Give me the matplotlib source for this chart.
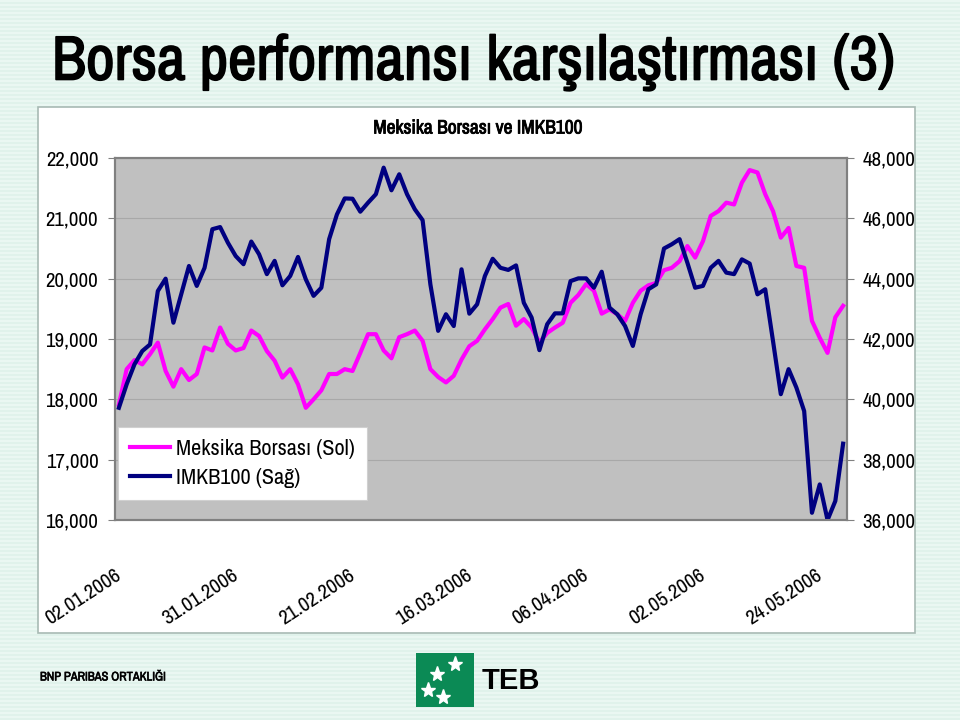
import matplotlib
matplotlib.use("Agg")
import matplotlib.pyplot as plt
import matplotlib.transforms as mtransforms
import matplotlib.patheffects as pe
from matplotlib import font_manager as fm
from matplotlib.patches import Rectangle
from matplotlib.lines import Line2D
from matplotlib.ticker import FuncFormatter
import numpy as np

# pick a narrow sans face (Arial Narrow look-alike)
available = {f.name for f in fm.fontManager.ttflist}
narrow = next((n for n in ['Liberation Sans Narrow', 'Arial Narrow', 'Archivo Narrow',
                           'Roboto Condensed', 'PT Sans Narrow', 'Sofia Sans Semi Condensed']
               if n in available), 'Liberation Sans')
plt.rcParams['font.family'] = [narrow, 'Liberation Sans', 'DejaVu Sans']

# tick dates (every 15th trading day)
tick_idx = [0, 15, 30, 45, 60, 75, 90]
tick_labels = ["02.01.2006", "31.01.2006", "21.02.2006", "16.03.2006",
               "06.04.2006", "02.05.2006", "24.05.2006"]

# Meksika Borsası (left axis)
mex = [17910, 18500, 18650, 18580, 18750, 18940, 18470, 18210, 18500, 18320,
       18420, 18860, 18810, 19190, 18920, 18810, 18850, 19140, 19050, 18800,
       18640, 18360, 18500, 18250, 17860, 18000, 18150, 18420, 18420, 18500,
       18470, 18770, 19080, 19080, 18810, 18680, 19030, 19080, 19140, 18970,
       18500, 18370, 18280, 18390, 18660, 18880, 18970, 19160, 19330, 19520,
       19580, 19220, 19330, 19190, 18940, 19100, 19190, 19270, 19600, 19730,
       19910, 19800, 19420, 19490, 19410, 19300, 19600, 19800, 19890, 19930,
       20140, 20180, 20290, 20540, 20350, 20620, 21040, 21120, 21260, 21230,
       21590, 21800, 21760, 21400, 21120, 20680, 20840, 20210, 20180, 19300,
       19020, 18770, 19360, 19550]

# IMKB100 (right axis)
imkb = [39720, 40500, 41160, 41600, 41820, 43590, 44000, 42540, 43480, 44420,
        43760, 44360, 45640, 45710, 45190, 44750, 44480, 45230, 44810, 44150,
        44590, 43780, 44090, 44720, 43980, 43430, 43700, 45310, 46130, 46660,
        46650, 46220, 46520, 46800, 47680, 46930, 47460, 46800, 46300, 45940,
        43810, 42270, 42820, 42430, 44310, 42840, 43150, 44090, 44660, 44360,
        44290, 44440, 43200, 42710, 41630, 42490, 42850, 42850, 43920, 44010,
        44010, 43700, 44230, 43040, 42820, 42430, 41770, 42820, 43650, 43810,
        45000, 45140, 45310, 44530, 43700, 43760, 44360, 44590, 44200, 44150,
        44640, 44500, 43480, 43650, 41930, 40170, 41000, 40390, 39610, 36240,
        37180, 36000, 36630, 38530]

x = np.arange(len(mex))


def heavy(lw):
    # thicken the narrow face, which has no bold cut installed
    return [pe.withStroke(linewidth=lw, foreground='black')]


fig = plt.figure(figsize=(9.6, 7.2), dpi=100)

# striped slide background
bg = fig.add_axes([0, 0, 1, 1], zorder=-10)
bg.set_xlim(0, 960)
bg.set_ylim(720, 0)
bg.axis('off')
bg.add_patch(Rectangle((0, 0), 960, 720, color='#e0f2eb', lw=0))
for yy in range(0, 720, 4):
    bg.add_patch(Rectangle((0, yy), 960, 2, color='#eaf7f2', lw=0))
bg.add_patch(Rectangle((38, 107), 877, 526, facecolor='white',
                       edgecolor='#a8bab4', lw=1.2))

title = bg.text(52, 62, "Borsa performansı karşılaştırması (3)", fontsize=44,
                fontweight='bold', ha='left', va='center', path_effects=heavy(1.2))
bg.text(478, 128, "Meksika Borsası ve IMKB100", fontsize=14,
        fontweight='bold', ha='center', va='center', path_effects=heavy(0.6))

# footer
bg.text(40, 677, "BNP PARIBAS ORTAKLIĞI", fontsize=9, fontweight='bold',
        ha='left', va='center', path_effects=heavy(0.4))
bg.add_patch(Rectangle((416, 653), 58, 54, color='#0b8a55', lw=0))
bg.plot([455, 437, 428, 443], [664, 674, 690, 697], ls='none', marker='*',
        color='white', ms=11)
bg.text(482, 681, "TEB", fontsize=21, fontweight='bold', ha='left',
        va='center', family=['Liberation Sans', 'DejaVu Sans'])

# chart
ax = fig.add_axes([115 / 960, 1 - 520 / 720, 732 / 960, 362 / 720])
ax.set_facecolor('#c0c0c0')
ax.plot(x, mex, color='#ff00ff', lw=3)
ax.set_xlim(-0.5, len(mex) - 0.5)
ax.set_ylim(16000, 22000)
ax.set_yticks(range(16000, 22001, 1000))
ax.yaxis.set_major_formatter(FuncFormatter(lambda v, p: f"{int(v):,}"))
ax.grid(axis='y', color='#a8a8a8', lw=0.8)
ax.set_axisbelow(True)

ax2 = ax.twinx()
ax2.plot(x, imkb, color='#000080', lw=3)
ax2.set_ylim(36000, 48000)
ax2.set_yticks(range(36000, 48001, 2000))
ax2.yaxis.set_major_formatter(FuncFormatter(lambda v, p: f"{int(v):,}"))

for a in (ax, ax2):
    for s in a.spines.values():
        s.set_color('#808080')
        s.set_linewidth(1.5)

ax.tick_params(axis='y', labelsize=15, length=5, color='#808080', pad=7)
ax2.tick_params(axis='y', labelsize=15, length=5, color='#808080', pad=6)

ax.set_xticks(tick_idx)
ax.set_xticklabels(tick_labels, rotation=33, ha='right', va='top', fontsize=15)
ax.tick_params(axis='x', length=0, pad=33)
off = mtransforms.ScaledTranslation(6 / 100, 0, fig.dpi_scale_trans)
for lbl in ax.get_xticklabels():
    lbl.set_transform(lbl.get_transform() + off)

handles = [Line2D([], [], color='#ff00ff', lw=3),
           Line2D([], [], color='#000080', lw=3)]
leg = ax2.legend(handles, ["Meksika Borsası (Sol)", "IMKB100 (Sağ)"],
                 loc='lower left', bbox_to_anchor=(118 / 960, 1 - 500 / 720),
                 bbox_transform=fig.transFigure, fontsize=16, frameon=True,
                 fancybox=False, edgecolor='#d0d0d0', framealpha=1,
                 borderaxespad=0, handlelength=1.8, handletextpad=0.25,
                 labelspacing=0.4, borderpad=0.55)
leg.get_frame().set_linewidth(0.8)

# stretch/shrink the title to the slide's title width
fig.canvas.draw()
w = title.get_window_extent().width
title.set_fontsize(44 * 843 / w)

fig.savefig("out.png", dpi=100)
